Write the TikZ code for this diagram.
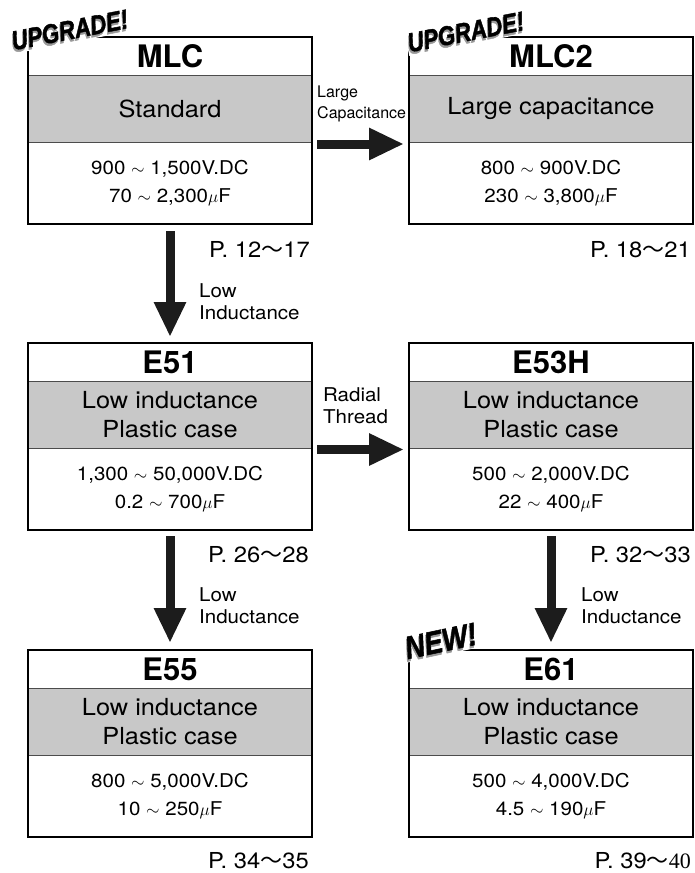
\documentclass[tikz,border=0pt]{standalone}
\usepackage{fontspec}
\setmainfont{TeX Gyre Heros}[FakeStretch=1.08]
\newfontfamily\titlefont{TeX Gyre Heros}
\newfontfamily\narrowfont{TeX Gyre Heros}
\newfontfamily\badgefont{Liberation Sans}[FakeBold=1.6]
\newfontfamily\serifnum{Liberation Serif}
\newfontfamily\cjk{Noto Sans CJK JP}
\usepackage{tikz}
\usetikzlibrary{arrows.meta,positioning}
\definecolor{bandgray}{RGB}{200,200,200}
\definecolor{arrowblack}{RGB}{28,28,28}
\newcommand{\wave}{{\cjk 〜}}
\newcommand{\badgetext}[1]{\makebox[0pt][l]{\hspace{-1.5pt}\raisebox{-2.2pt}{\color{black!40}#1}}#1}

\begin{document}
\begin{tikzpicture}[x=1pt, y=-1pt,
    titlebox/.style={rectangle, minimum width=284pt, minimum height=38pt, inner sep=0pt, outer sep=0pt,
      font=\titlefont\bfseries\fontsize{31}{31}\selectfont},
    bandbox/.style={rectangle, fill=bandgray, draw=black!70, line width=1pt, minimum width=284pt,
      minimum height=67pt, inner sep=0pt, outer sep=0pt, align=center, font=\fontsize{23.5}{29}\selectfont},
    specbox/.style={rectangle, minimum width=284pt, minimum height=82pt, inner sep=0pt, outer sep=0pt,
      align=center, font=\fontsize{19}{28}\selectfont},
    frame/.style={draw, line width=2.8pt},
    bigarrow/.style={draw=arrowblack, line width=9pt, -{Triangle[length=35pt,width=30pt]}},
    pagelabel/.style={inner sep=0pt, font=\fontsize{22}{22}\selectfont},
    steplabel/.style={inner sep=0pt, align=left, font=\fontsize{19}{22}\selectfont},
    badge/.style={fill=white, inner sep=1pt, font=\badgefont\bfseries\itshape}]
  \useasboundingbox (0,0) rectangle (695,873);

  % Define nodes
  \node[titlebox, anchor=north] (mlc) at (170,37) {MLC};
  \node[bandbox, below=0pt of mlc] (mlcband) {Standard};
  \node[specbox, below=0pt of mlcband] (mlcspec) {900 $\sim$ 1,500V.DC\\70 $\sim$ 2,300$\mu$F};

  \node[titlebox, anchor=north] (mlc2) at (551,37) {MLC2};
  \node[bandbox, below=0pt of mlc2] (mlc2band) {Large capacitance};
  \node[specbox, below=0pt of mlc2band] (mlc2spec) {800 $\sim$ 900V.DC\\230 $\sim$ 3,800$\mu$F};

  \node[titlebox, anchor=north] (e51) at (170,343) {E51};
  \node[bandbox, below=0pt of e51] (e51band) {Low inductance\\Plastic case};
  \node[specbox, below=0pt of e51band] (e51spec) {1,300 $\sim$ 50,000V.DC\\0.2 $\sim$ 700$\mu$F};

  \node[titlebox, anchor=north] (e53h) at (551,343) {E53H};
  \node[bandbox, below=0pt of e53h] (e53hband) {Low inductance\\Plastic case};
  \node[specbox, below=0pt of e53hband] (e53hspec) {500 $\sim$ 2,000V.DC\\22 $\sim$ 400$\mu$F};

  \node[titlebox, anchor=north] (e55) at (170,650) {E55};
  \node[bandbox, below=0pt of e55] (e55band) {Low inductance\\Plastic case};
  \node[specbox, below=0pt of e55band] (e55spec) {800 $\sim$ 5,000V.DC\\10 $\sim$ 250$\mu$F};

  \node[titlebox, anchor=north] (e61) at (551,650) {E61};
  \node[bandbox, below=0pt of e61] (e61band) {Low inductance\\Plastic case};
  \node[specbox, below=0pt of e61band] (e61spec) {500 $\sim$ 4,000V.DC\\4.5 $\sim$ 190$\mu$F};

  % Box frames
  \draw[frame] (mlc.north west) rectangle (mlcspec.south east);
  \draw[frame] (mlc2.north west) rectangle (mlc2spec.south east);
  \draw[frame] (e51.north west) rectangle (e51spec.south east);
  \draw[frame] (e53h.north west) rectangle (e53hspec.south east);
  \draw[frame] (e55.north west) rectangle (e55spec.south east);
  \draw[frame] (e61.north west) rectangle (e61spec.south east);

  % Badges
  \node[badge, rotate=11] (mlcbadge) at (70,31) {\fontsize{27}{27}\selectfont\scalebox{0.82}[1]{\badgetext{UPGRADE!}}};
  \node[badge, rotate=11] (mlc2badge) at (466,33) {\fontsize{27}{27}\selectfont\scalebox{0.82}[1]{\badgetext{UPGRADE!}}};
  \node[badge, rotate=12] (e61badge) at (441,642) {\fontsize{32}{32}\selectfont\scalebox{0.85}[1]{\badgetext{NEW!}}};

  % Page labels
  \node[pagelabel, anchor=base east] (mlcpage) at (310,257) {P. 12\wave17};
  \node[pagelabel, anchor=base east] (mlc2page) at (691,257) {P. 18\wave21};
  \node[pagelabel, anchor=base east] (e51page) at (309,562) {P. 26\wave28};
  \node[pagelabel, anchor=base east] (e53hpage) at (691,562) {P. 32\wave33};
  \node[pagelabel, anchor=base east] (e55page) at (309,868) {P. 34\wave35};
  \node[pagelabel, anchor=base east] (e61page) at (691,868) {P. 39\wave{\serifnum 40}};

  % Draw edges
  \draw[bigarrow, shorten <=7pt, shorten >=6pt] (mlcspec.south) -- (e51.north);
  \draw[bigarrow, shorten <=6pt, shorten >=7pt] (e51spec.south) -- (e55.north);
  \draw[bigarrow, shorten <=6pt, shorten >=7pt] (e53hspec.south) -- (e61.north);
  \draw[bigarrow, shorten <=5pt, shorten >=5pt] ([yshift=-2pt]mlcspec.north east) -- ([yshift=-2pt]mlc2spec.north west);
  \draw[bigarrow, shorten <=5pt, shorten >=5pt] ([yshift=-1.5pt]e51spec.north east) -- ([yshift=-1.5pt]e53hspec.north west);

  % Edge labels (base = last line)
  \node[steplabel, anchor=base west, font=\narrowfont\fontsize{16}{21}\selectfont] (largecap) at (317,118) {Large\\Capacitance};
  \node[steplabel, anchor=base west] (radial) at (323,423) {Radial\\Thread};
  \node[steplabel, anchor=base west] (lowind1) at (199,319) {Low\\Inductance};
  \node[steplabel, anchor=base west] (lowind2) at (199,623) {Low\\Inductance};
  \node[steplabel, anchor=base west] (lowind3) at (581,623) {Low\\Inductance};
\end{tikzpicture}
\end{document}
